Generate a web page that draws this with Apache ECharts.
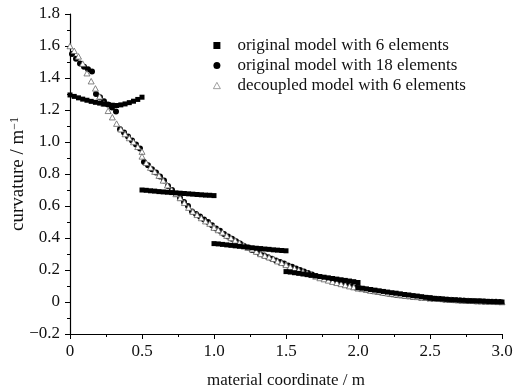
<!DOCTYPE html>
<html><head><meta charset="utf-8">
<script src="https://cdn.jsdelivr.net/npm/echarts@6/dist/echarts.min.js"></script>
<style>html,body{margin:0;padding:0;background:#fff}#c{width:513px;height:392px}</style>
</head><body><div id="c"></div>
<script>
// x ticks & y ticks
var xTicks = [0, 0.5, 1.0, 1.5, 2.0, 2.5, 3.0];
var yTicks = [-0.2, 0, 0.2, 0.4, 0.6, 0.8, 1.0, 1.2, 1.4, 1.6, 1.8];
var seriesNames = ['original model with 6 elements', 'original model with 18 elements', 'decoupled model with 6 elements'];

// element boundaries
var elems6 = [0, 0.5, 1.0, 1.5, 2.0, 2.5, 3.0];
var elems18 = [0, 1/6, 2/6, 3/6, 4/6, 5/6, 1, 7/6, 8/6, 9/6, 10/6, 11/6, 2, 13/6, 14/6, 15/6, 16/6, 17/6, 3];

// original model, 6 elements (18 nodes per element, from element start to element end)
var orig6 = [
  [1.294, 1.285, 1.276, 1.268, 1.261, 1.254, 1.248, 1.243, 1.238, 1.234, 1.230, 1.228, 1.232, 1.238, 1.246, 1.255, 1.266, 1.280],
  [0.700, 0.698, 0.695, 0.693, 0.690, 0.688, 0.686, 0.684, 0.682, 0.680, 0.678, 0.676, 0.674, 0.672, 0.670, 0.668, 0.667, 0.665],
  [0.365, 0.363, 0.360, 0.357, 0.354, 0.351, 0.348, 0.345, 0.342, 0.339, 0.336, 0.334, 0.331, 0.329, 0.326, 0.324, 0.322, 0.320],
  [0.190, 0.187, 0.183, 0.179, 0.175, 0.171, 0.167, 0.163, 0.159, 0.155, 0.151, 0.147, 0.143, 0.139, 0.135, 0.131, 0.127, 0.122],
  [0.090, 0.086, 0.082, 0.078, 0.074, 0.070, 0.066, 0.062, 0.058, 0.055, 0.051, 0.047, 0.044, 0.040, 0.037, 0.033, 0.029, 0.026],
  [0.024, 0.022, 0.020, 0.018, 0.016, 0.014, 0.013, 0.011, 0.010, 0.008, 0.007, 0.006, 0.005, 0.004, 0.003, 0.002, 0.001, 0.000]
];

// original model, 18 elements (6 sample points inside each element)
var orig18 = [
  [1.550, 1.520, 1.490, 1.470, 1.455, 1.440],
  [1.300, 1.280, 1.255, 1.235, 1.215, 1.190],
  [1.080, 1.060, 1.035, 1.010, 0.985, 0.960],
  [0.875, 0.855, 0.830, 0.810, 0.785, 0.760],
  [0.725, 0.700, 0.675, 0.650, 0.625, 0.600],
  [0.565, 0.550, 0.535, 0.515, 0.500, 0.480],
  [0.460, 0.445, 0.425, 0.410, 0.395, 0.380],
  [0.365, 0.350, 0.340, 0.325, 0.315, 0.300],
  [0.290, 0.280, 0.270, 0.260, 0.250, 0.240],
  [0.228, 0.220, 0.210, 0.200, 0.190, 0.182],
  [0.172, 0.163, 0.155, 0.147, 0.140, 0.132],
  [0.124, 0.117, 0.110, 0.103, 0.097, 0.091],
  [0.085, 0.079, 0.074, 0.069, 0.065, 0.061],
  [0.057, 0.053, 0.049, 0.045, 0.042, 0.039],
  [0.036, 0.033, 0.031, 0.028, 0.026, 0.024],
  [0.022, 0.020, 0.018, 0.016, 0.014, 0.013],
  [0.011, 0.010, 0.008, 0.007, 0.006, 0.005],
  [0.004, 0.003, 0.002, 0.002, 0.001, 0.000]
];

// decoupled model, 6 elements (18 nodes per element)
var decoupled6 = [
  [1.600, 1.570, 1.535, 1.490, 1.430, 1.380, 1.335, 1.285, 1.240, 1.195, 1.155, 1.115, 1.080, 1.050, 1.025, 1.000, 0.970, 0.940],
  [0.910, 0.870, 0.840, 0.815, 0.790, 0.760, 0.730, 0.700, 0.675, 0.650, 0.620, 0.590, 0.565, 0.545, 0.525, 0.505, 0.490, 0.470],
  [0.465, 0.450, 0.435, 0.415, 0.400, 0.385, 0.370, 0.355, 0.340, 0.330, 0.315, 0.300, 0.290, 0.280, 0.270, 0.255, 0.245, 0.235],
  [0.232, 0.220, 0.210, 0.200, 0.190, 0.180, 0.170, 0.160, 0.150, 0.143, 0.135, 0.127, 0.120, 0.113, 0.106, 0.099, 0.093, 0.087],
  [0.087, 0.082, 0.077, 0.072, 0.068, 0.064, 0.059, 0.055, 0.051, 0.048, 0.044, 0.041, 0.038, 0.035, 0.032, 0.029, 0.027, 0.025],
  [0.025, 0.023, 0.021, 0.019, 0.017, 0.015, 0.013, 0.012, 0.010, 0.009, 0.008, 0.006, 0.005, 0.004, 0.003, 0.002, 0.001, 0.000]
];

function nodalPairs(bounds, vals) {
  var out = [];
  vals.forEach(function (arr, e) {
    var a = bounds[e], b = bounds[e + 1], n = arr.length;
    arr.forEach(function (v, k) { out.push([a + (b - a) * k / (n - 1), v]); });
  });
  return out;
}
function interiorPairs(bounds, vals) {
  var out = [];
  vals.forEach(function (arr, e) {
    var a = bounds[e], b = bounds[e + 1], n = arr.length;
    arr.forEach(function (v, k) { out.push([a + (b - a) * (k + 0.5) / n, v]); });
  });
  return out;
}

var FONT = 'Liberation Serif';
var FS = 17;
var chart = echarts.init(document.getElementById('c'), null, {renderer: 'canvas'});
var triPath = 'path://M5,0 L10,9 L0,9 Z';
chart.setOption({
  animation: false,
  backgroundColor: '#fff',
  grid: {left: 70, right: 11, top: 14, bottom: 58, containLabel: false, outerBoundsMode: 'none'},
  legend: {
    orient: 'vertical', left: 208, top: 32, itemGap: 3,
    itemWidth: 7, itemHeight: 7,
    textStyle: {fontFamily: FONT, fontSize: FS, color: '#111', padding: [0, 0, 0, 12]},
    data: [
      {name: seriesNames[0], icon: 'rect', itemStyle: {color: '#000', borderWidth: 0, opacity: 1}},
      {name: seriesNames[1], icon: 'circle', itemStyle: {color: '#000', borderWidth: 0, opacity: 1}},
      {name: seriesNames[2], icon: triPath, itemStyle: {color: '#fff', borderColor: '#888', borderWidth: 0.8, opacity: 1}}
    ]
  },
  xAxis: {
    type: 'value', min: xTicks[0], max: xTicks[xTicks.length - 1], interval: 0.5,
    name: 'material coordinate / m', nameLocation: 'middle', nameGap: 38, nameMoveOverlap: false,
    nameTextStyle: {fontFamily: FONT, fontSize: FS, color: '#111'},
    axisLine: {onZero: false, lineStyle: {color: '#000', width: 1.2}},
    axisTick: {show: true, inside: false, length: 5, lineStyle: {color: '#000'}},
    minorTick: {show: true, splitNumber: 2, length: 3, lineStyle: {color: '#000'}},
    splitLine: {show: false},
    axisLabel: {fontFamily: FONT, fontSize: FS, color: '#111', margin: 9,
      formatter: function (v) { return Math.abs(v) < 1e-9 ? '0' : v.toFixed(1); }}
  },
  yAxis: {
    type: 'value', min: yTicks[0], max: yTicks[yTicks.length - 1], interval: 0.2,
    name: 'curvature / m{sup|−1}', nameLocation: 'middle', nameGap: 42, nameRotate: 90, nameMoveOverlap: false,
    nameTextStyle: {fontFamily: FONT, fontSize: 19, color: '#111',
      rich: {sup: {fontFamily: FONT, fontSize: 12, color: '#111', verticalAlign: 'top', lineHeight: 12, padding: [0, 0, 9, 0]}}},
    axisLine: {show: true, onZero: false, lineStyle: {color: '#000', width: 1.2}},
    axisTick: {show: true, inside: false, length: 5, lineStyle: {color: '#000'}},
    minorTick: {show: true, splitNumber: 2, length: 3, lineStyle: {color: '#000'}},
    splitLine: {show: false},
    axisLabel: {fontFamily: FONT, fontSize: FS, color: '#111', margin: 10,
      formatter: function (v) {
        if (Math.abs(v) < 1e-9) return '0';
        var s = Math.abs(v).toFixed(1);
        return v < 0 ? '\u2212' + s : s;
      }}
  },
  series: [
    {
      name: seriesNames[1], type: 'scatter', z: 2,
      symbol: 'circle', symbolSize: 6,
      itemStyle: {color: '#000', borderWidth: 0, opacity: 1},
      data: interiorPairs(elems18, orig18)
    },
    {
      name: seriesNames[2], type: 'scatter', z: 3,
      symbol: triPath, symbolSize: [6, 5.5],
      itemStyle: {color: '#fff', borderColor: '#666', borderWidth: 0.8, opacity: 1},
      data: nodalPairs(elems6, decoupled6)
    },
    {
      name: seriesNames[0], type: 'scatter', z: 4,
      symbol: 'rect', symbolSize: 5,
      itemStyle: {color: '#000', borderWidth: 0, opacity: 1},
      data: nodalPairs(elems6, orig6)
    }
  ]
});
</script>
</body></html>
